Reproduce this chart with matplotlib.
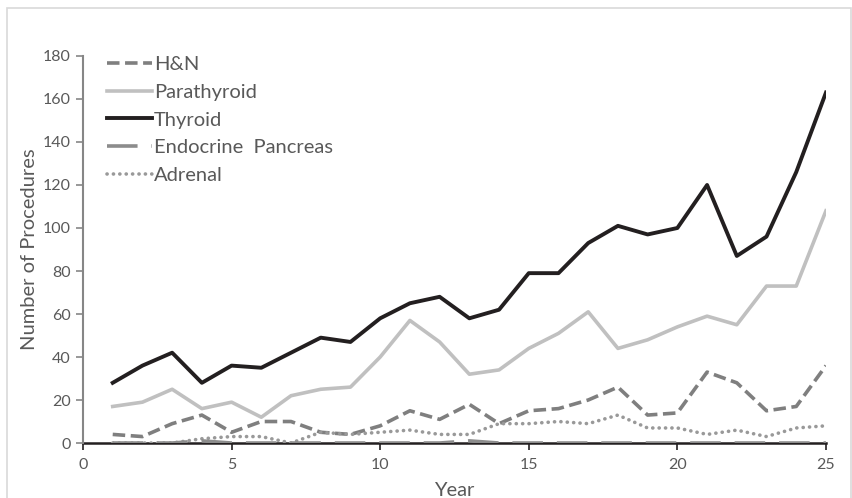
import matplotlib
matplotlib.use("Agg")
import matplotlib.pyplot as plt
from matplotlib.patches import Rectangle

plt.rcParams['font.family'] = ['Lato', 'DejaVu Sans']
plt.rcParams['lines.scale_dashes'] = False

years = list(range(1, 26))
hn = [4, 3, 9, 13, 5, 10, 10, 5, 4, 8, 15, 11, 18, 9, 15, 16, 20, 26, 13, 14, 33, 28, 15, 17, 36]
parathyroid = [17, 19, 25, 16, 19, 12, 22, 25, 26, 40, 57, 47, 32, 34, 44, 51, 61, 44, 48, 54, 59, 55, 73, 73, 108]
thyroid = [28, 36, 42, 28, 36, 35, 42, 49, 47, 58, 65, 68, 58, 62, 79, 79, 93, 101, 97, 100, 120, 87, 96, 126, 163]
pancreas = [0, 0, 0, 1, 0, 0, 0, 0, 0, 0, 0, 0, 1, 0, 0, 0, 0, 0, 0, 0, 0, 0, 0, 0, 0]
adrenal = [0, 0, 0, 2, 3, 3, 0, 5, 4, 5, 6, 4, 4, 9, 9, 10, 9, 13, 7, 7, 4, 6, 3, 7, 8]

TEXT = '#595959'

fig = plt.figure(figsize=(8.53, 4.98), dpi=100)
ax = fig.add_axes([0.0973, 0.1104, 0.8710, 0.7772])

# outer chart frame
fig.patches.append(Rectangle((7 / 853, -0.1), 844 / 853, 1.1 - 8 / 498, transform=fig.transFigure,
                             fill=False, edgecolor='#d9d9d9', linewidth=1.2))

ax.plot(years, hn, color='#7f7f7f', lw=2.6, dashes=(9, 4), label='H&N', zorder=3)
ax.plot(years, parathyroid, color='#c0c0c0', lw=2.6, label='Parathyroid', zorder=3)
ax.plot(years, thyroid, color='#231f20', lw=2.8, label='Thyroid', zorder=4)
ax.plot(years, pancreas, color='#8c8c8c', lw=2.6, dashes=(22, 10), label='Endocrine  Pancreas', zorder=5)
ax.plot(years, adrenal, color='#999999', lw=2.6, dashes=(0.1, 4.5), dash_capstyle='round',
        label='Adrenal', zorder=3)

ax.set_xlim(0, 25)
ax.set_ylim(0, 180)
ax.set_xticks(range(0, 26, 5))
ax.set_yticks(range(0, 181, 20))

for s in ['top', 'right']:
    ax.spines[s].set_visible(False)
ax.spines['left'].set_color('#868686')
ax.spines['left'].set_linewidth(1.5)
ax.spines['bottom'].set_color('#231f20')
ax.spines['bottom'].set_linewidth(1.8)
ax.spines['bottom'].set_zorder(2)
ax.tick_params(axis='y', colors='#868686', labelcolor=TEXT, labelsize=11.5, length=5, width=1.2, pad=4)
ax.tick_params(axis='x', colors='#231f20', labelcolor=TEXT, labelsize=11.5, length=5, width=1.2, pad=6)

ax.set_xlabel('Year', fontsize=14.5, color=TEXT, labelpad=7)
ax.set_ylabel('Number of Procedures', fontsize=14.5, color=TEXT, labelpad=3)

leg = ax.legend(loc='upper left', bbox_to_anchor=(0.022, 1.02), frameon=False, fontsize=14.5,
                handlelength=2.2, handletextpad=0.12, labelspacing=0.52, borderaxespad=0)
for t in leg.get_texts():
    t.set_color(TEXT)

fig.savefig('out.png', dpi=100)
